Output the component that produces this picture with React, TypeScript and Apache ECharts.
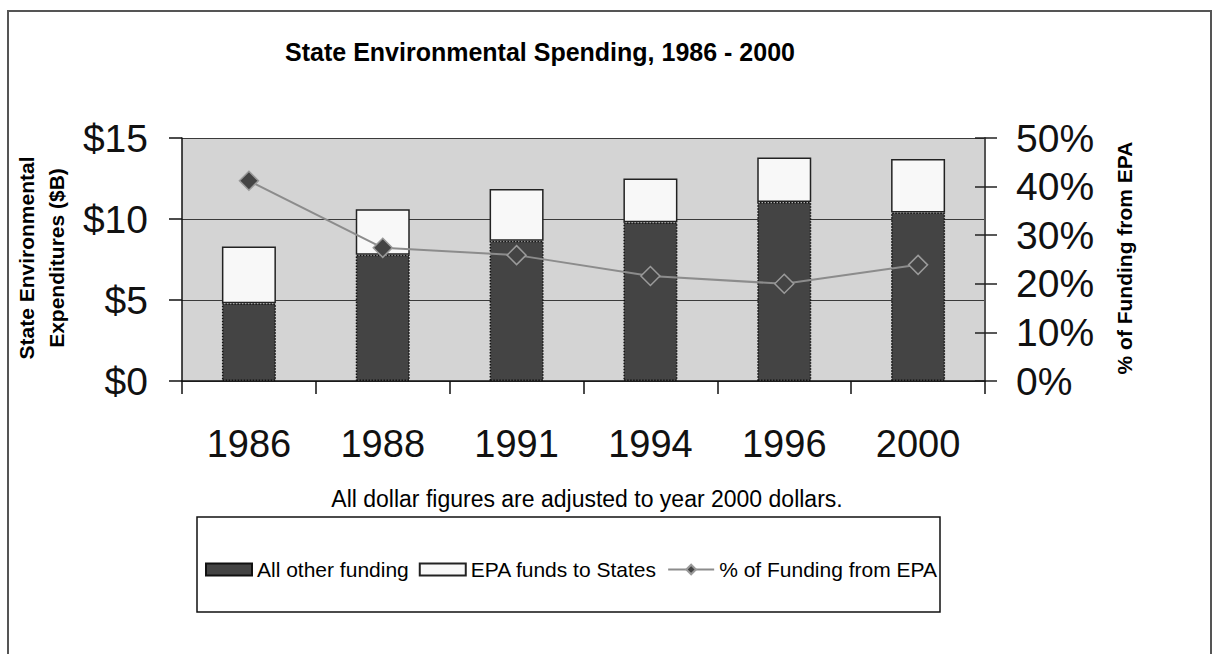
import React, { useEffect, useRef } from "react";
import * as echarts from "echarts";

const categories = ["1986", "1988", "1991", "1994", "1996", "2000"];
const otherFunding = [4.8, 7.8, 8.65, 9.8, 11.05, 10.4];
const epaFunds = [3.5, 2.8, 3.2, 2.7, 2.75, 3.3];
const pctFromEPA = [41.2, 27.4, 25.9, 21.6, 20.0, 23.9];
const dollarTicks = [0, 5, 10, 15];
const pctTicks = [0, 10, 20, 30, 40, 50];

const FONT = "'Liberation Sans', Arial, sans-serif";

export default function App() {
  const ref = useRef<HTMLDivElement>(null);
  useEffect(() => {
    if (!ref.current) return;
    const chart = echarts.init(ref.current, null, { renderer: "svg" });
    chart.setOption({
      animation: false,
      backgroundColor: "#ffffff",
      textStyle: { fontFamily: FONT },
      grid: {
        left: 182,
        right: 228,
        top: 138,
        height: 243,
        show: true,
        backgroundColor: "#d4d4d4",
        borderWidth: 0,
      },
      legend: {
        left: 200,
        top: 554,
        itemWidth: 46,
        itemHeight: 12,
        itemGap: 10,
        textStyle: { fontSize: 21, color: "#000", fontFamily: FONT },
        data: [
          { name: "All other funding", icon: "rect" },
          { name: "EPA funds to States", icon: "rect" },
          { name: "% of Funding from EPA" },
        ],
      },
      xAxis: {
        type: "category",
        data: categories,
        boundaryGap: true,
        axisLine: { lineStyle: { color: "#111", width: 1.5 } },
        axisTick: { show: true, length: 13, lineStyle: { color: "#111", width: 1.5 } },
        axisLabel: { fontSize: 38, color: "#111", margin: 44, fontFamily: FONT },
      },
      yAxis: [
        {
          type: "value",
          min: dollarTicks[0],
          max: dollarTicks[dollarTicks.length - 1],
          interval: 5,
          position: "left",
          axisLine: { show: true, lineStyle: { color: "#111", width: 1.5 } },
          axisTick: { show: true, length: 13, lineStyle: { color: "#111", width: 1.5 } },
          axisLabel: { fontSize: 39, color: "#111", margin: 34, formatter: (v: number) => "$" + v, fontFamily: FONT },
          splitLine: { show: true, lineStyle: { color: "#3a3a3a", width: 1.2 } },
        },
        {
          type: "value",
          min: pctTicks[0],
          max: pctTicks[pctTicks.length - 1],
          interval: 10,
          position: "right",
          axisLine: { show: true, lineStyle: { color: "#555", width: 2 } },
          axisTick: { show: true, length: 12, lineStyle: { color: "#222", width: 1.5 } },
          axisLabel: { fontSize: 39, color: "#111", margin: 31, formatter: (v: number) => v + "%", fontFamily: FONT },
          splitLine: { show: false },
        },
        {
          type: "value",
          min: pctTicks[0],
          max: pctTicks[pctTicks.length - 1],
          interval: 10,
          position: "right",
          axisLine: { show: false },
          axisTick: { show: true, inside: true, length: 10, lineStyle: { color: "#222", width: 1.5 } },
          axisLabel: { show: false },
          splitLine: { show: false },
        },
      ],
      series: [
        {
          name: "All other funding",
          type: "bar",
          stack: "total",
          data: otherFunding,
          barWidth: 54,
          itemStyle: { color: "#444444", borderColor: "#111", borderWidth: 1.5, borderType: "dotted" },
        },
        {
          name: "EPA funds to States",
          type: "bar",
          stack: "total",
          data: epaFunds,
          barWidth: 54,
          itemStyle: { color: "#f8f8f8", borderColor: "#222", borderWidth: 1.5 },
        },
        {
          name: "% of Funding from EPA",
          type: "line",
          yAxisIndex: 1,
          data: pctFromEPA,
          symbol: "diamond",
          symbolSize: 19,
          lineStyle: { color: "#8c8c8c", width: 2 },
          itemStyle: { color: "#444444", borderColor: "#9a9a9a", borderWidth: 1.5 },
          z: 5,
        },
      ],
      graphic: [
        {
          type: "rect",
          shape: { x: 8, y: 11, width: 1203, height: 700 },
          style: { fill: "none", stroke: "#555", lineWidth: 2 },
          silent: true,
        },
        {
          type: "text",
          x: 540,
          y: 52,
          style: {
            text: "State Environmental Spending, 1986 - 2000",
            fontSize: 25,
            fontWeight: "bold",
            fontFamily: FONT,
            fill: "#000",
            align: "center",
            verticalAlign: "middle",
          },
        },
        {
          type: "text",
          x: 41,
          y: 258,
          rotation: Math.PI / 2,
          style: {
            text: "State Environmental\nExpenditures ($B)",
            fontSize: 21,
            lineHeight: 30,
            fontWeight: "bold",
            fontFamily: FONT,
            fill: "#000",
            align: "center",
            verticalAlign: "middle",
          },
        },
        {
          type: "text",
          x: 1124,
          y: 258,
          rotation: Math.PI / 2,
          style: {
            text: "% of Funding from EPA",
            fontSize: 21,
            fontWeight: "bold",
            fontFamily: FONT,
            fill: "#000",
            align: "center",
            verticalAlign: "middle",
          },
        },
        {
          type: "text",
          x: 587,
          y: 499,
          style: {
            text: "All dollar figures are adjusted to year 2000 dollars.",
            fontSize: 23,
            fontFamily: FONT,
            fill: "#000",
            align: "center",
            verticalAlign: "middle",
          },
        },
        {
          type: "rect",
          shape: { x: 197, y: 517, width: 743, height: 95 },
          style: { fill: "none", stroke: "#111", lineWidth: 1.5 },
          silent: true,
        },
      ],
    });
    return () => chart.dispose();
  }, []);
  return <div ref={ref} style={{ position: "absolute", left: 0, top: 0, width: 1213, height: 654 }} />;
}
